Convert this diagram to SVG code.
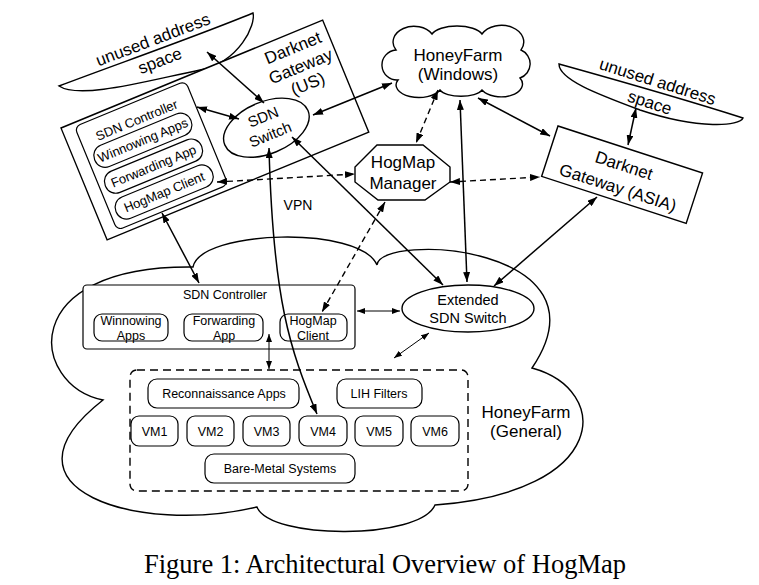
<svg xmlns="http://www.w3.org/2000/svg" width="759" height="585" viewBox="0 0 759 585">
<style>
.o{fill:#fff;stroke:#000;stroke-width:1.4}
.p{fill:#fff;stroke:#000;stroke-width:1.2}
.t{font-family:"Liberation Sans",Arial,sans-serif;fill:#000;text-anchor:middle}
.c{fill:none;stroke:#000;stroke-width:1.5}
.d{fill:none;stroke:#000;stroke-width:1.4;stroke-dasharray:6,4}
.th{fill:none;stroke:#000;stroke-width:1}
</style>
<defs>
<marker id="ah" viewBox="0 0 10 8" refX="10" refY="4" markerWidth="10" markerHeight="7" orient="auto-start-reverse" markerUnits="userSpaceOnUse" preserveAspectRatio="none"><path d="M0,0 L10,4 L0,8 z" fill="#000"/></marker>
<marker id="as" viewBox="0 0 8 6" refX="8" refY="3" markerWidth="8" markerHeight="6" orient="auto-start-reverse" markerUnits="userSpaceOnUse"><path d="M0,0 L8,3 L0,6 z" fill="#000"/></marker>
</defs>
<rect width="759" height="585" fill="#fff"/>

<!-- HoneyFarm General cloud -->
<g id="honeyfarm-general">
<path class="o" d="M103,400 C30,385 15,265 193,267 C200,230 360,225 377,265 C380,232 615,245 532,368 C612,390 610,492 435,505 C420,540 270,540 257,507 C140,535 -12,490 103,400 Z"/>
<text class="t" font-size="17" x="526" y="418">HoneyFarm</text>
<text class="t" font-size="17" x="526" y="437">(General)</text>
</g>

<!-- unused address space US -->
<g id="unused-us">
<path class="o" d="M59,86 C120,63 200,35 253,13 C256,24 240,62 200,70 C150,80 80,100 59,86 Z"/>
<text class="t" font-size="17" transform="translate(155,45) rotate(-20.8)">unused address</text>
<text class="t" font-size="17" transform="translate(162,66) rotate(-21)">space</text>
</g>

<!-- Darknet Gateway US -->
<g id="darknet-us" transform="translate(61,128) rotate(-22.4)">
<rect class="o" x="0" y="0" width="283" height="121"/>
<text class="t" font-size="17" x="245" y="20">Darknet</text>
<text class="t" font-size="17" x="245" y="40">Gateway</text>
<text class="t" font-size="17" x="245" y="59">(US)</text>
</g>
<g id="sdn-controller-us" transform="translate(61,128) rotate(-22.4)">
<rect class="p" x="13" y="4" width="120" height="112" rx="6"/>
<text class="t" font-size="13" x="73" y="26">SDN Controller</text>
<rect class="p" x="19" y="31" width="104" height="23" rx="11"/>
<text class="t" font-size="13" x="71" y="47">Winnowing Apps</text>
<rect class="p" x="19" y="59" width="104" height="23" rx="11"/>
<text class="t" font-size="13" x="71" y="75">Forwarding App</text>
<rect class="p" x="19" y="87" width="104" height="23" rx="11"/>
<text class="t" font-size="13" x="71" y="103">HogMap Client</text>
</g>
<g id="sdn-switch-us" transform="translate(61,128) rotate(-22.4)">
<ellipse class="o" cx="190" cy="78" rx="45" ry="26"/>
<text class="t" font-size="15" x="191" y="72">SDN</text>
<text class="t" font-size="15" x="191" y="91">Switch</text>
</g>

<!-- HoneyFarm Windows -->
<g id="honeyfarm-windows">
<path class="o" d="M398,80 A15,15 0 0 1 396,50 A20,15 0 0 1 432,34 A26,11 0 0 1 482,34 A20,15 0 0 1 521,50 A15,15 0 0 1 520,78 A20,12 0 0 1 482,90 A22,9 0 0 1 440,90 A22,12 0 0 1 398,80 Z"/>
<text class="t" font-size="17" x="458" y="61">HoneyFarm</text>
<text class="t" font-size="17" x="458" y="80">(Windows)</text>
</g>

<!-- HogMap Manager -->
<g id="hogmap-manager">
<path class="o" d="M377,145 L423,145 L450,167 L450,182 L425,200 L378,200 L355,182 L355,167 Z"/>
<text class="t" font-size="17" x="403" y="168">HogMap</text>
<text class="t" font-size="17" x="403" y="189">Manager</text>
</g>

<!-- unused address space ASIA -->
<g id="unused-asia">
<path class="o" d="M559,64 C620,81 690,101 743,118 C740,126 700,130 640,110 C600,95 559,80 559,64 Z"/>
<text class="t" font-size="17" transform="translate(656,87) rotate(17.5)">unused address</text>
<text class="t" font-size="17" transform="translate(648,108) rotate(18)">space</text>
</g>

<!-- Darknet Gateway ASIA -->
<g id="darknet-asia" transform="translate(558,126) rotate(18)">
<rect class="o" x="0" y="0" width="152" height="53"/>
<text class="t" font-size="17" x="75" y="23">Darknet</text>
<text class="t" font-size="17" x="76" y="46">Gateway (ASIA)</text>
</g>

<!-- lower SDN controller -->
<g id="sdn-controller">
<rect class="p" x="83" y="285" width="272" height="64" rx="4"/>
<text class="t" font-size="12.5" x="225" y="298.5">SDN Controller</text>
<rect class="p" x="94" y="314" width="74" height="27" rx="8"/>
<text class="t" font-size="12.5" x="131" y="324.5">Winnowing</text>
<text class="t" font-size="12.5" x="131" y="339.5">Apps</text>
<rect class="p" x="184" y="314" width="79" height="27" rx="8"/>
<text class="t" font-size="12.5" x="224" y="324.5">Forwarding</text>
<text class="t" font-size="12.5" x="224" y="339.5">App</text>
<rect class="p" x="280" y="314" width="67" height="27" rx="8"/>
<text class="t" font-size="12.5" x="313" y="324.5">HogMap</text>
<text class="t" font-size="12.5" x="313" y="339.5">Client</text>
</g>

<!-- Extended SDN Switch -->
<g id="extended-switch">
<ellipse class="o" cx="468" cy="308.5" rx="66" ry="23.5"/>
<text class="t" font-size="14.5" x="468" y="305">Extended</text>
<text class="t" font-size="14.5" x="468" y="323">SDN Switch</text>
</g>

<!-- Honeyfarm internals -->
<g id="honeyfarm-systems">
<rect x="130" y="370" width="338" height="121" rx="7" fill="none" stroke="#000" stroke-width="1.4" stroke-dasharray="8,5"/>
<rect class="p" x="148" y="379" width="151" height="29" rx="9"/>
<text class="t" font-size="12.5" x="224" y="397.5">Reconnaissance Apps</text>
<rect class="p" x="337" y="379" width="85" height="29" rx="9"/>
<text class="t" font-size="12.5" x="379" y="397.5">LIH Filters</text>
<rect class="p" x="131" y="416" width="47" height="30" rx="8"/>
<text class="t" font-size="12.5" x="154.5" y="435.5">VM1</text>
<rect class="p" x="187" y="416" width="47" height="30" rx="8"/>
<text class="t" font-size="12.5" x="210.5" y="435.5">VM2</text>
<rect class="p" x="243" y="416" width="47" height="30" rx="8"/>
<text class="t" font-size="12.5" x="266.5" y="435.5">VM3</text>
<rect class="p" x="299" y="416" width="48" height="30" rx="8"/>
<text class="t" font-size="12.5" x="323" y="435.5">VM4</text>
<rect class="p" x="355" y="416" width="48" height="30" rx="8"/>
<text class="t" font-size="12.5" x="379" y="435.5">VM5</text>
<rect class="p" x="411" y="416" width="48" height="30" rx="8"/>
<text class="t" font-size="12.5" x="435" y="435.5">VM6</text>
<rect class="p" x="205" y="454" width="150" height="29" rx="9"/>
<text class="t" font-size="12.5" x="280" y="472.5">Bare-Metal Systems</text>
</g>

<!-- connectors -->
<g id="connectors">
<path class="c" d="M207,52 L264,103" marker-start="url(#ah)" marker-end="url(#ah)"/>
<path class="c" d="M197,107 L239,119" marker-start="url(#ah)" marker-end="url(#ah)"/>
<path class="c" d="M313,115 L392,83" marker-start="url(#ah)" marker-end="url(#ah)"/>
<path class="d" d="M217,182 L355,174" marker-start="url(#ah)" marker-end="url(#ah)"/>
<path class="d" d="M450,182 L540,177" marker-start="url(#ah)" marker-end="url(#ah)"/>
<path class="d" d="M438,90 L416,143" marker-start="url(#ah)" marker-end="url(#ah)"/>
<path class="c" d="M478,98 L550,136" marker-start="url(#ah)" marker-end="url(#ah)"/>
<path class="c" d="M636,108 L628,145" marker-start="url(#ah)" marker-end="url(#ah)"/>
<path class="c" d="M597,197 L494,286" marker-start="url(#ah)" marker-end="url(#ah)"/>
<path class="c" d="M460,100 L467,282" marker-start="url(#ah)" marker-end="url(#ah)"/>
<path class="c" d="M292,137 L443,285" marker-start="url(#ah)" marker-end="url(#ah)"/>
<path class="c" d="M269,148 C273,300 290,350 317,414" marker-start="url(#ah)" marker-end="url(#ah)"/>
<path class="c" d="M162,213 L199,283" marker-start="url(#ah)" marker-end="url(#ah)"/>
<path class="d" d="M385,202 L322,312" marker-start="url(#ah)" marker-end="url(#ah)"/>
<path class="th" d="M357,311 L400,311" marker-start="url(#as)" marker-end="url(#as)"/>
<path class="th" d="M269,334 L269,369" marker-start="url(#as)" marker-end="url(#as)"/>
<path class="th" d="M429,333 L394,358" marker-start="url(#as)" marker-end="url(#as)"/>
<text class="t" font-size="14" x="298" y="210">VPN</text>
</g>

<text x="385" y="573" font-family="'Liberation Serif','Times New Roman',serif" font-size="26.5" text-anchor="middle" fill="#000">Figure 1: Architectural Overview of HogMap</text>
</svg>
